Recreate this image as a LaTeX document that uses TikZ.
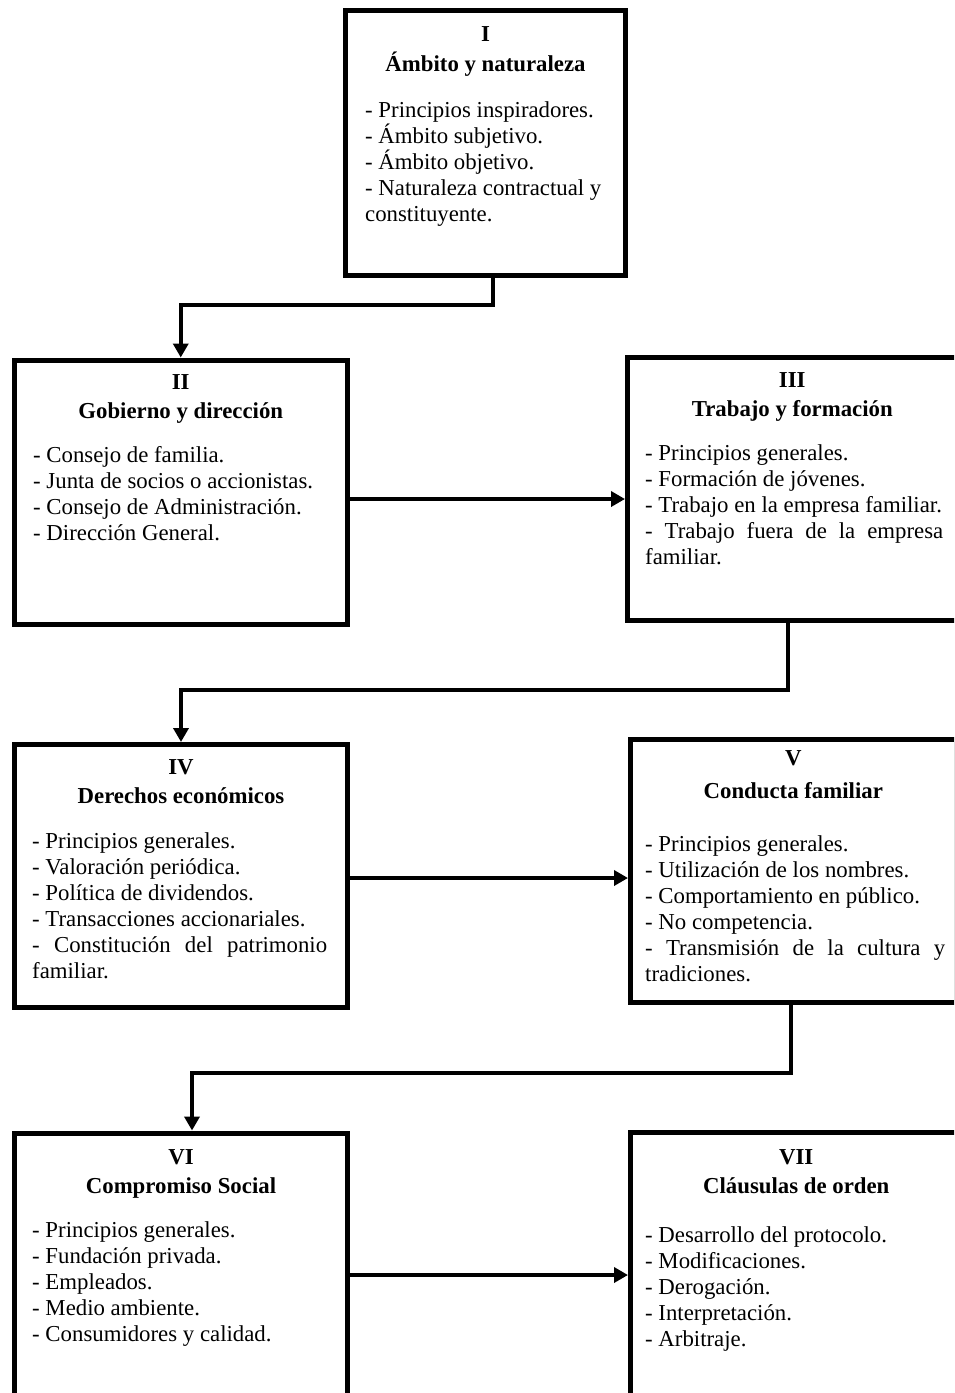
\documentclass[tikz,border=0pt]{standalone}
\usepackage{fontspec}
\setmainfont{Liberation Serif}
\usetikzlibrary{arrows.meta}
\hyphenpenalty=10000
\exhyphenpenalty=10000
\begin{document}
\begin{tikzpicture}[x=1pt,y=-1pt,
  box/.style={draw=black, line width=5pt, inner sep=0pt, rectangle},
  conn/.style={draw=black, line width=4pt, -{Triangle[length=14pt,width=15pt]}},
  hd/.style={font=\fontsize{22.8}{26}\selectfont\bfseries, anchor=base, inner sep=0pt},
  lst/.style={font=\fontsize{22.8}{26}\selectfont, anchor=base west, inner sep=0pt, align=justify},
]
\useasboundingbox (0,0) rectangle (954,1393);
\fill[white] (0,0) rectangle (954,1393);
\clip (0,0) rectangle (954,1393);

% boxes
\node[box, minimum width=280pt, minimum height=265pt] (b1) at (485.5,143) {};
\node[box, minimum width=332.5pt, minimum height=264.5pt] (b2) at (180.75,492.25) {};
\node[box, minimum width=329.5pt, minimum height=263pt] (b3) at (792.25,489) {};
\node[box, minimum width=333pt, minimum height=263pt] (b4) at (181,876) {};
\node[box, minimum width=325.5pt, minimum height=263pt] (b5) at (793.25,871) {};
\node[box, minimum width=333pt, minimum height=290pt] (b6) at (181,1278) {};
\node[box, minimum width=331.5pt, minimum height=290pt] (b7) at (796.25,1277) {};

% box I
\node[hd] (n1) at (485.5,41) {I};
\node[hd] (t1) at (485.5,71) {Ámbito y naturaleza};
\node[lst, text width=245pt] (l1) at (365,117) {- Principios inspiradores.\\
- Ámbito subjetivo.\\
- Ámbito objetivo.\\
- Naturaleza contractual y\\
constituyente.};

% box II
\node[hd] (n2) at (180.75,389) {II};
\node[hd] (t2) at (180.75,418) {Gobierno y dirección};
\node[lst, text width=300pt] (l2) at (33,462) {- Consejo de familia.\\
- Junta de socios o accionistas.\\
- Consejo de Administración.\\
- Dirección General.};

% box III
\node[hd] (n3) at (792.25,387.5) {III};
\node[hd] (t3) at (792.25,416.5) {Trabajo y formación};
\node[lst, text width=298pt] (l3) at (645,460) {- Principios generales.\\
- Formación de jóvenes.\\
- Trabajo en la empresa familiar.\\
- Trabajo fuera de la empresa\linebreak familiar.};

% box IV
\node[hd] (n4) at (181,774) {IV};
\node[hd] (t4) at (181,803) {Derechos económicos};
\node[lst, text width=295pt] (l4) at (32,848) {- Principios generales.\\
- Valoración periódica.\\
- Política de dividendos.\\
- Transacciones accionariales.\\
- Constitución del patrimonio\linebreak familiar.};

% box V
\node[hd] (n5) at (793.25,765) {V};
\node[hd] (t5) at (793.25,798) {Conducta familiar};
\node[lst, text width=300pt] (l5) at (645,851) {- Principios generales.\\
- Utilización de los nombres.\\
- Comportamiento en público.\\
- No competencia.\\
- Transmisión de la cultura y\linebreak tradiciones.};

% box VI
\node[hd] (n6) at (181,1164) {VI};
\node[hd] (t6) at (181,1193) {Compromiso Social};
\node[lst, text width=300pt] (l6) at (32,1237) {- Principios generales.\\
- Fundación privada.\\
- Empleados.\\
- Medio ambiente.\\
- Consumidores y calidad.};

% box VII
\node[hd] (n7) at (796.25,1164) {VII};
\node[hd] (t7) at (796.25,1193) {Cláusulas de orden};
\node[lst, text width=300pt] (l7) at (645,1242) {- Desarrollo del protocolo.\\
- Modificaciones.\\
- Derogación.\\
- Interpretación.\\
- Arbitraje.};

% connectors
\coordinate (k1) at (493,305);
\coordinate (k3) at (787.5,690);
\coordinate (k5) at (791,1073);
\coordinate (k6) at (192,1073);
\coordinate (h2) at (0,499);
\coordinate (h4) at (0,878);
\coordinate (h6) at (0,1275);

\draw[conn] (k1 |- b1.south) -- (k1) -| (b2.north);
\draw[conn] (b2.east |- h2) -- (b3.west |- h2);
\draw[conn] (k3 |- b3.south) -- (k3) -| (b4.north);
\draw[conn] (b4.east |- h4) -- (b5.west |- h4);
\draw[conn] (k5 |- b5.south) -- (k5) -- (k6) -- (k6 |- b6.north);
\draw[conn] (b6.east |- h6) -- (b7.west |- h6);
\end{tikzpicture}
\end{document}
